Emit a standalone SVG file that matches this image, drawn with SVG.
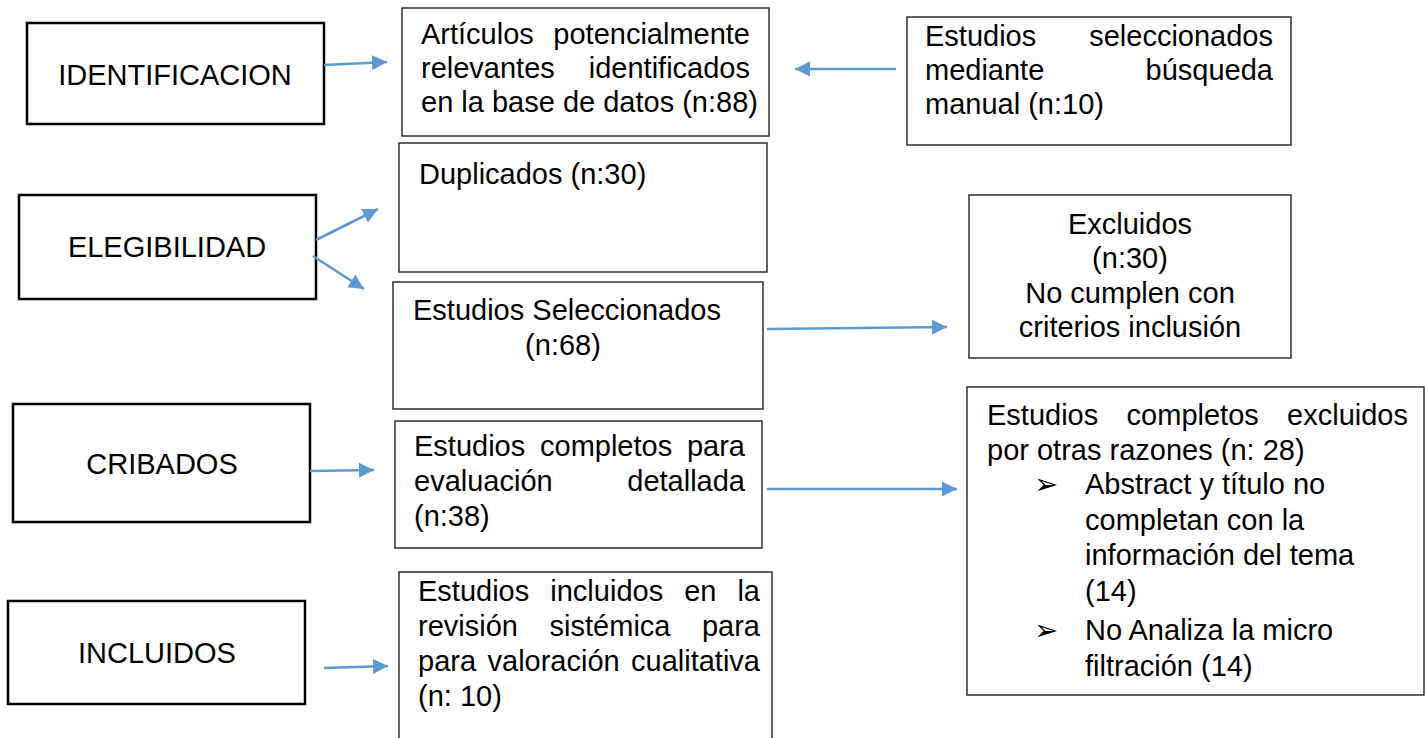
<svg xmlns="http://www.w3.org/2000/svg" width="1425" height="738" viewBox="0 0 1425 738">
<style>
text{font-family:"Liberation Sans",Arial,sans-serif;font-size:29px;fill:#000}
.stage{fill:#fff;stroke:#000;stroke-width:2.5}
.box{fill:#fff;stroke:#222;stroke-width:1.4}
.end{text-anchor:end}
.mid{text-anchor:middle}
.bul{font-family:"DejaVu Sans",sans-serif;font-size:29px}
.conn line{stroke:#5B9BD5;stroke-width:2.6;marker-end:url(#ah)}
</style>
<defs>
<marker id="ah" markerUnits="userSpaceOnUse" markerWidth="16" markerHeight="16" refX="15" refY="7.5" orient="auto">
<path d="M0,0 L15,7.5 L0,15 z" fill="#5B9BD5"/>
</marker>
</defs>
<rect width="1425" height="738" fill="#fff"/>

<g id="identificacion"><rect class="stage" x="27" y="23" width="297" height="101"/><text class="mid" x="175" y="85">IDENTIFICACION</text></g>
<g id="elegibilidad"><rect class="stage" x="19" y="195" width="297" height="104"/><text class="mid" x="167" y="257">ELEGIBILIDAD</text></g>
<g id="cribados"><rect class="stage" x="13" y="404" width="297" height="118"/><text class="mid" x="162" y="474">CRIBADOS</text></g>
<g id="incluidos"><rect class="stage" x="8" y="601" width="297" height="103"/><text class="mid" x="157" y="663">INCLUIDOS</text></g>

<g id="articulos"><rect class="box" x="402" y="8" width="367" height="128"/>
<text x="421" y="44">Artículos</text><text class="end" x="750" y="44">potencialmente</text>
<text x="421" y="78">relevantes</text><text class="end" x="750" y="78">identificados</text>
<text x="421" y="112">en la base de datos (n:88)</text></g>

<g id="manual"><rect class="box" x="907" y="17" width="384" height="128"/>
<text x="925" y="46">Estudios</text><text class="end" x="1273" y="46">seleccionados</text>
<text x="925" y="80">mediante</text><text class="end" x="1273" y="80">búsqueda</text>
<text x="925" y="114">manual (n:10)</text></g>

<g id="duplicados"><rect class="box" x="399" y="143" width="368" height="129"/>
<text x="419" y="184">Duplicados (n:30)</text></g>

<g id="seleccionados"><rect class="box" x="393" y="282" width="370" height="127"/>
<text x="413" y="320">Estudios Seleccionados</text>
<text class="mid" x="563" y="355">(n:68)</text></g>

<g id="excluidos"><rect class="box" x="969" y="195" width="322" height="163"/>
<text class="mid" x="1130" y="234">Excluidos</text>
<text class="mid" x="1130" y="268">(n:30)</text>
<text class="mid" x="1130" y="303">No cumplen con</text>
<text class="mid" x="1130" y="337">criterios inclusión</text></g>

<g id="evaluacion"><rect class="box" x="395" y="421" width="367" height="127"/>
<text x="414" y="456">Estudios</text><text x="540" y="456">completos</text><text class="end" x="745" y="456">para</text>
<text x="414" y="491">evaluación</text><text class="end" x="745" y="491">detallada</text>
<text x="414" y="526">(n:38)</text></g>

<g id="excluidos-otras"><rect class="box" x="967" y="387" width="457" height="308"/>
<text x="987" y="425">Estudios</text><text x="1126.6" y="425">completos</text><text class="end" x="1408" y="425">excluidos</text>
<text x="987" y="460">por otras razones (n: 28)</text>
<text class="bul" x="1034" y="494">➢</text><text x="1085" y="494">Abstract y título no</text>
<text x="1085" y="530">completan con la</text>
<text x="1085" y="565">información del tema</text>
<text x="1085" y="601">(14)</text>
<text class="bul" x="1034" y="640">➢</text><text x="1085" y="640">No Analiza la micro</text>
<text x="1085" y="676">filtración (14)</text></g>

<g id="incluidos-revision"><rect class="box" x="399" y="572" width="373" height="180"/>
<text x="418" y="601">Estudios</text><text x="550.3" y="601">incluidos</text><text x="684.2" y="601">en</text><text class="end" x="760" y="601">la</text>
<text x="418" y="636">revisión</text><text x="549.6" y="636">sistémica</text><text class="end" x="760" y="636">para</text>
<text x="418" y="671">para</text><text x="487.5" y="671">valoración</text><text class="end" x="760" y="671">cualitativa</text>
<text x="418" y="706">(n: 10)</text></g>

<g id="connectors" class="conn">
<line x1="324" y1="65" x2="387" y2="62"/>
<line x1="896" y1="69" x2="795" y2="69"/>
<line x1="316" y1="240" x2="378" y2="209"/>
<line x1="313" y1="256" x2="364" y2="289"/>
<line x1="767" y1="329" x2="947" y2="327"/>
<line x1="310" y1="471" x2="374" y2="470"/>
<line x1="767" y1="489" x2="957" y2="489"/>
<line x1="324" y1="668" x2="388" y2="666"/>
</g>
</svg>
